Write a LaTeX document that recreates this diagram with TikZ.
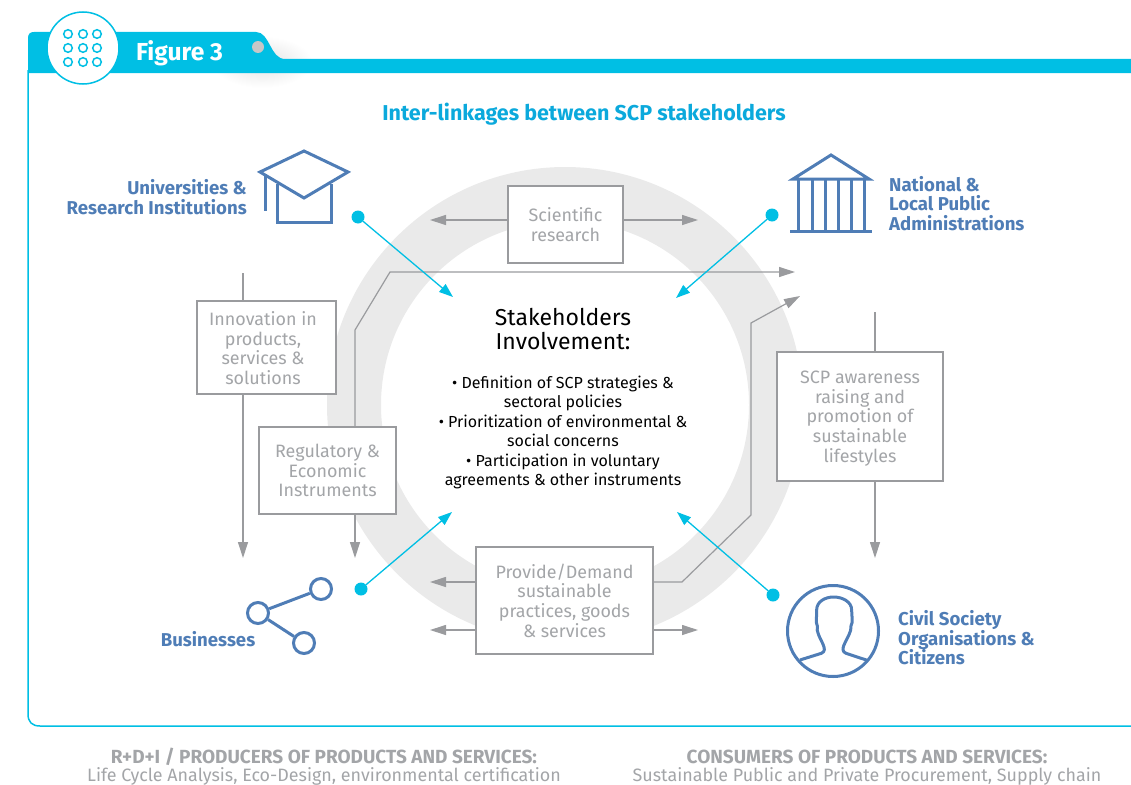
\documentclass[tikz,border=0pt]{standalone}
\usepackage{fontspec}
\setmainfont{Fira Sans}
\usetikzlibrary{arrows.meta}
\definecolor{figcyan}{HTML}{00BFE4}
\definecolor{figtitle}{HTML}{0BA9DC}
\definecolor{figblue}{HTML}{4F7DB6}
\definecolor{figgray}{HTML}{A3A5A8}
\definecolor{figline}{HTML}{9A9B9E}
\definecolor{figring}{HTML}{EAEAEA}
\tikzset{
  linktext/.style={text=figgray,align=center,inner sep=0pt,font=\fontsize{17.9}{19.6}\selectfont},
  linkbox/.style={linktext,draw=figline,line width=1.2pt,fill=white},
  actor/.style={text=figblue,inner sep=0pt,font=\fontsize{18.6}{19.5}\selectfont\bfseries},
  iconline/.style={draw=figblue,line width=3pt},
  grayarrow/.style={draw=figline,line width=1.2pt,-{Triangle[length=16pt,width=10pt]}},
  grayline/.style={draw=figline,line width=1.2pt},
  bluearrow/.style={draw=figcyan,line width=1.3pt,-{Triangle[length=14pt,width=10pt]}},
  bluedot/.style={circle,fill=figcyan,minimum size=13pt,inner sep=0pt},
  foot/.style={text=figgray,inner sep=0pt,font=\fontsize{17.9}{19}\selectfont}
}
\begin{document}
\begin{tikzpicture}[x=1pt,y=-1pt]
\useasboundingbox (0,0) rectangle (1131,784);
% header
\shade[inner color=black!11,outer color=white] (262,62) ellipse (50 and 26);
\fill[figcyan] (28,73) -- (28,38) .. controls (28,34) and (30,32) .. (34,32)
  -- (256,32) .. controls (270,32) and (270,59) .. (285,59) -- (1131,59) -- (1131,73) -- cycle;
\draw[figcyan,line width=1.5pt] (28,70) -- (28,714) .. controls (28,722) and (32,726) .. (40,726) -- (1131,726);
\node[circle,draw=figcyan,fill=white,line width=1.5pt,minimum size=72pt,inner sep=0pt] (badge) at (83,48) {};
\foreach \x in {68,83,97}
\foreach \y in {34,48,62}
{
\draw[figcyan,line width=1.5pt] (\x,\y) circle (4.3);
}
\fill[black!22] (258,47) circle (6);
\node[text=white,inner sep=0pt,font=\fontsize{24.6}{26}\selectfont\bfseries] (figlabel) at (179.5,53) {Figure 3};
\node[text=figtitle,inner sep=0pt,font=\fontsize{21.5}{24}\selectfont\bfseries] (title) at (584,114) {Inter-linkages between SCP stakeholders};
% ring
\draw[figring,line width=54pt] (565,405) circle (211);
% boxes
\node[linkbox,minimum width=115pt,minimum height=77pt] (research) at (565.5,224.5) {Scientific\\research};
\node[linkbox,minimum width=139pt,minimum height=93pt] (innovation) at (266.5,347.5) {};
\node[linktext] (innovtext) at (263,348) {Innovation in\\products,\\services \&\\solutions};
\node[linkbox,minimum width=137pt,minimum height=87pt] (regulatory) at (327.5,470.5) {Regulatory \&\\Economic\\Instruments};
\node[linkbox,minimum width=166pt,minimum height=129pt] (awareness) at (860,416.5) {};
\node[linktext] (awaretext) at (860,418.5) {SCP awareness\\raising and\\promotion of\\sustainable\\lifestyles};
\node[linkbox,minimum width=177pt,minimum height=107pt] (provide) at (564.5,600.5) {Provide/Demand\\sustainable\\practices, goods\\\& services};
% centre
\node[align=center,inner sep=0pt,font=\fontsize{23}{24.5}\selectfont] (centre) at (563,329) {Stakeholders\\Involvement:};
\node[align=center,inner sep=0pt,font=\fontsize{16}{19.4}\selectfont] (bullets) at (563,432.5) {• Definition of SCP strategies \&\\sectoral policies\\• Prioritization of environmental \&\\social concerns\\• Participation in voluntary\\agreements \& other instruments};
% free ends
\coordinate (researchl) at (430,220);
\coordinate (researchr) at (698,220);
\coordinate (innovtop) at (243,273);
\coordinate (innovend) at (243,558);
\coordinate (regend) at (355,558);
\coordinate (regtop) at (795,272);
\coordinate (awaretop) at (875,312);
\coordinate (awareend) at (875,558);
\coordinate (provl) at (430,582);
\coordinate (provll) at (430,630);
\coordinate (provr) at (698,630);
\coordinate (provtop) at (800,296);
% gray connectors
\draw[grayarrow] (research.west |- researchl) -- (researchl);
\draw[grayarrow] (research.east |- researchr) -- (researchr);
\draw[grayline] (innovtop) -- (innovtop |- innovation.north);
\draw[grayarrow] (innovtop |- innovation.south) -- (innovend);
\draw[grayarrow] (regend |- regulatory.south) -- (regend);
\draw[grayarrow] (regend |- regulatory.north) -- (355,330) -- (390,272) -- (regtop);
\draw[grayline] (awaretop) -- (awaretop |- awareness.north);
\draw[grayarrow] (awaretop |- awareness.south) -- (awareend);
\draw[grayarrow] (provide.west |- provl) -- (provl);
\draw[grayarrow] (provide.west |- provll) -- (provll);
\draw[grayarrow] (provide.east |- provr) -- (provr);
\draw[grayarrow] (provide.east |- provl) -- (682,582) -- (751,515) -- (751,323) -- (provtop);
% blue connectors
\node[bluedot] (dotuni) at (358,217) {};
\node[bluedot] (dotnat) at (772,215) {};
\node[bluedot] (dotbus) at (361,589) {};
\node[bluedot] (dotciv) at (773,595) {};
\coordinate (tipuni) at (453,297);
\coordinate (tipnat) at (676,298);
\coordinate (tipbus) at (452,512);
\coordinate (tipciv) at (677,512);
\draw[bluearrow] (dotuni) -- (tipuni);
\draw[bluearrow] (dotnat) -- (tipnat);
\draw[bluearrow] (dotbus) -- (tipbus);
\draw[bluearrow] (dotciv) -- (tipciv);
% mortar board
\draw[iconline,miter limit=20] (260,172) -- (304,151) -- (348,172) -- (304,198) -- cycle;
\draw[iconline] (265,176) -- (265,211);
\draw[iconline] (277,184) -- (277,222.5) -- (331,222.5) -- (331,184);
% temple
\draw[iconline,miter limit=20] (793,179) -- (831,155) -- (869,179) -- cycle;
\foreach \x in {798,812,825,838,851,864}
{
\draw[iconline] (\x,179) -- (\x,231);
}
\draw[iconline] (790,231) -- (872,231);
% network
\node[circle,iconline,minimum size=21pt,inner sep=0pt] (netc) at (258,613) {};
\node[circle,iconline,minimum size=21pt,inner sep=0pt] (neta) at (321,589) {};
\node[circle,iconline,minimum size=21pt,inner sep=0pt] (netb) at (304,643) {};
\draw[iconline] (netc) -- (neta);
\draw[iconline] (netc) -- (netb);
% person
\node[circle,iconline,minimum size=91pt,inner sep=0pt] (head) at (833,631) {};
\begin{scope}[shift={(660,500)},x=0.3333pt,y=-0.3333pt]
\draw[iconline,line join=round] (420,480) -- (484,460) .. controls (496,455) and (494,445) .. (490,435)
  .. controls (480,412) and (468,395) .. (472,378) .. controls (466,365) and (471,350) .. (470,330)
  .. controls (470,305) and (495,291) .. (521,291) .. controls (547,291) and (575,305) .. (575,330)
  .. controls (575,350) and (580,365) .. (573,378) .. controls (575,395) and (562,412) .. (552,435)
  .. controls (548,445) and (546,455) .. (558,460) -- (625,482);
\end{scope}
% actor labels
\node[actor,align=right,anchor=east] (uni) at (247,197) {Universities \&\\Research Institutions};
\node[actor,align=left,anchor=west] (nat) at (889,203.5) {National \&\\Local Public\\Administrations};
\node[actor,anchor=center] (bus) at (208,639) {Businesses};
\node[actor,align=left,anchor=west] (civ) at (898,638) {Civil Society\\Organisations \&\\Citizens};
% footer
\node[foot,font=\fontsize{19}{19}\selectfont\bfseries] (foota) at (324,757) {R+D+I / PRODUCERS OF PRODUCTS AND SERVICES:};
\node[foot] (footb) at (324,776) {Life Cycle Analysis, Eco-Design, environmental certification};
\node[foot,font=\fontsize{19}{19}\selectfont\bfseries] (footc) at (867,757) {CONSUMERS OF PRODUCTS AND SERVICES:};
\node[foot] (footd) at (867,776) {Sustainable Public and Private Procurement, Supply chain};
\end{tikzpicture}
\end{document}
